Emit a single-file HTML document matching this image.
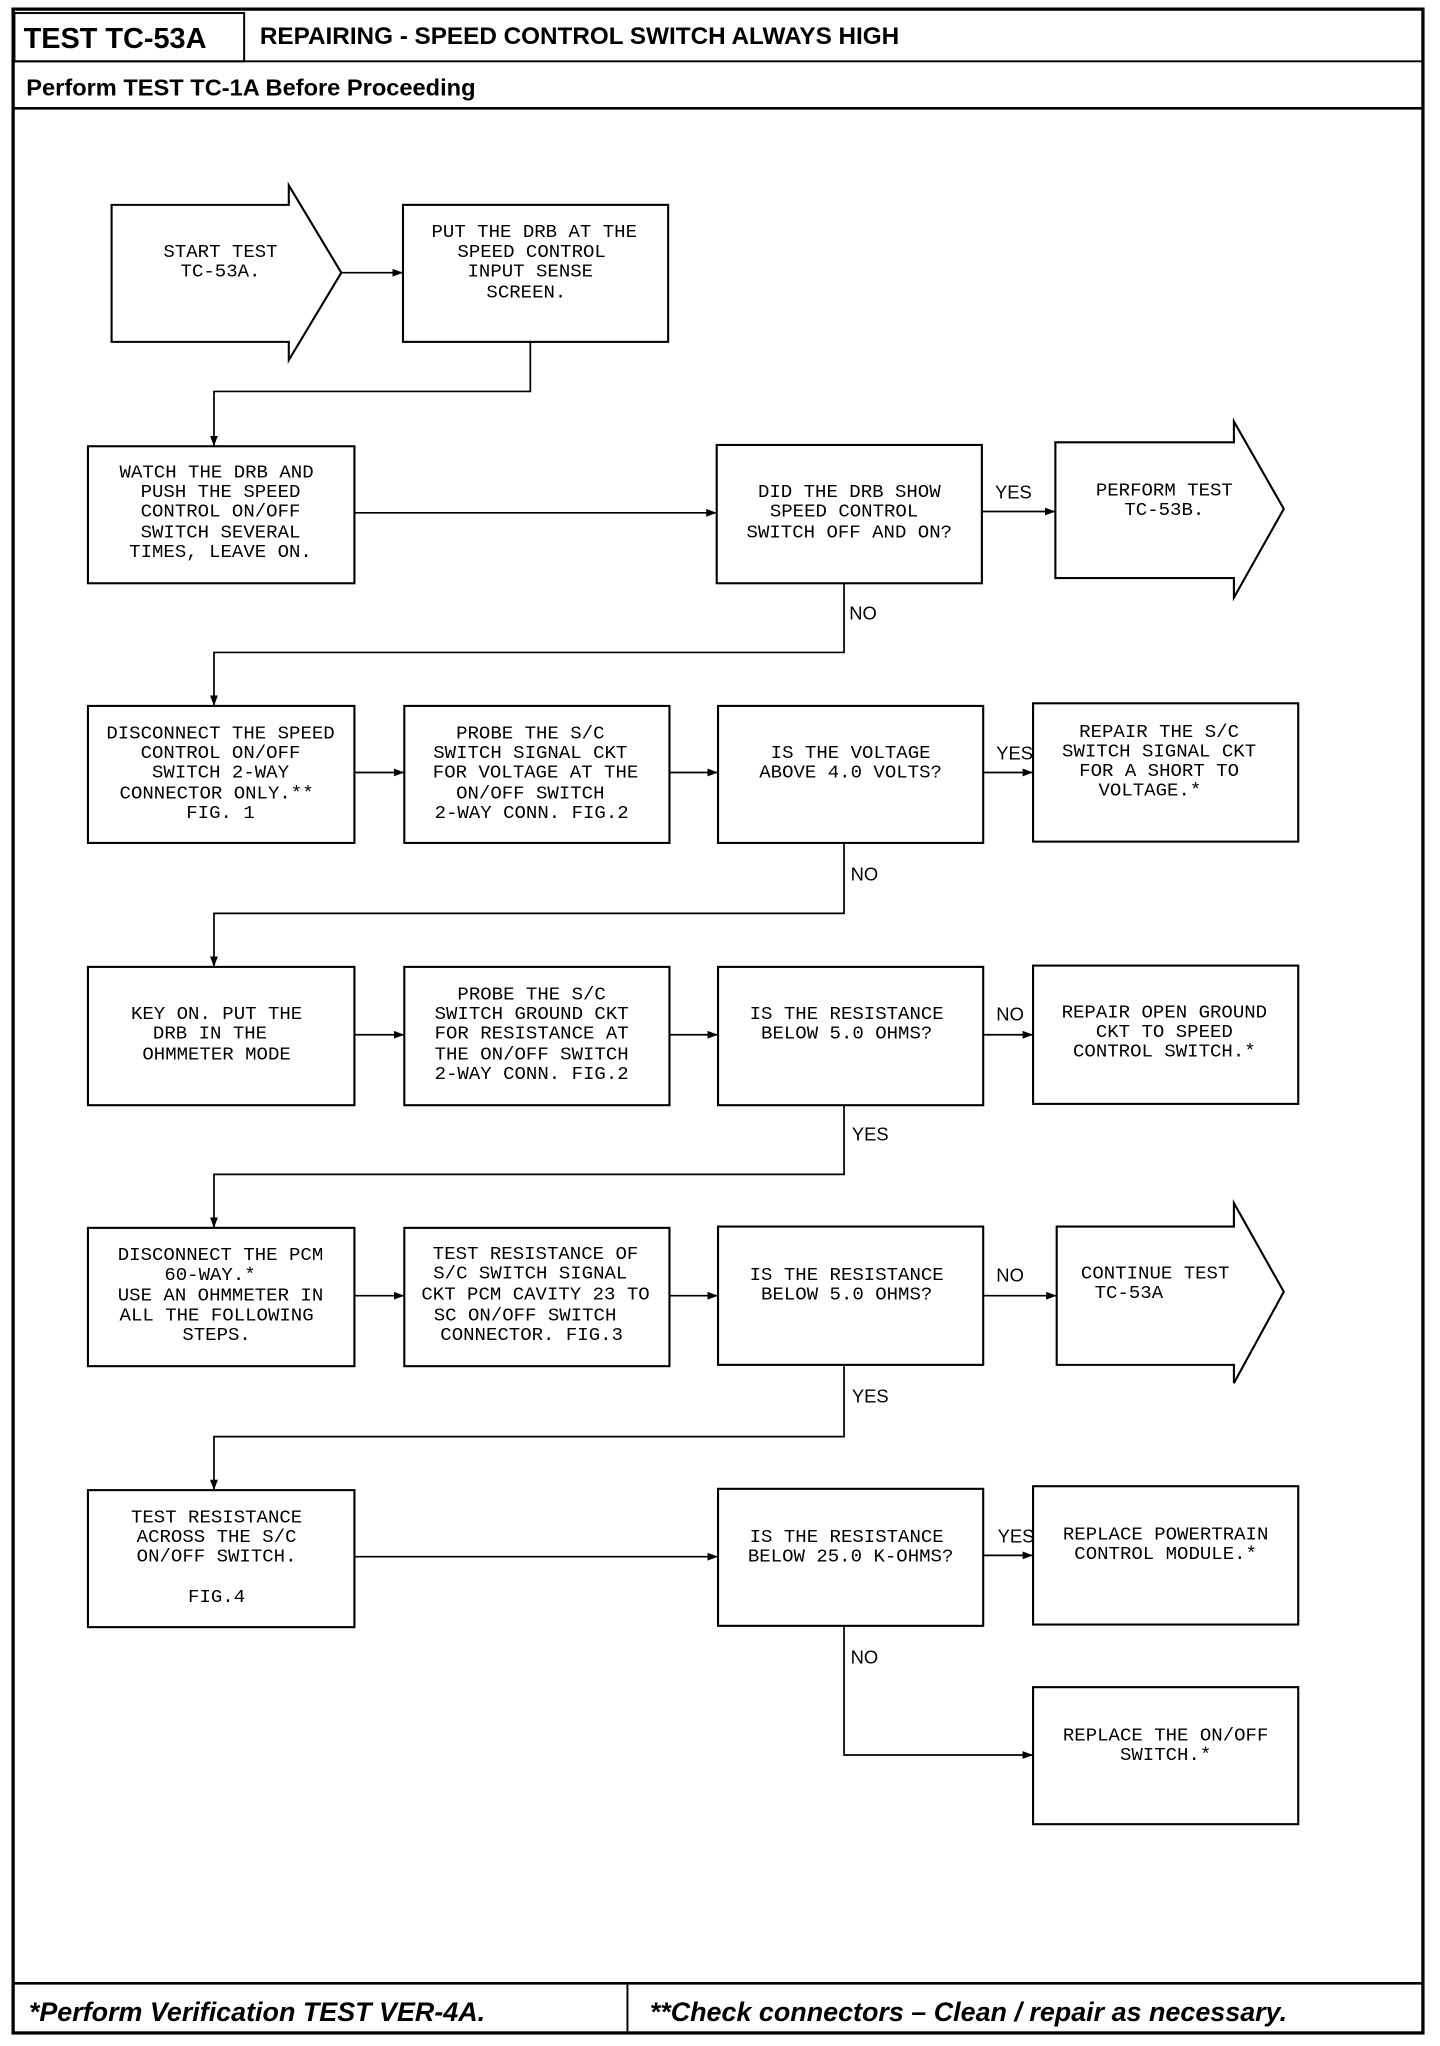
<!DOCTYPE html>
<html><head><meta charset="utf-8"><style>
html,body{margin:0;padding:0;background:#fff;}
svg{display:block;}
.t{font-family:"Liberation Mono",monospace;font-size:14.5px;fill:#000;text-anchor:middle;dominant-baseline:central;}
.l{font-family:"Liberation Sans",sans-serif;font-size:14px;fill:#000;dominant-baseline:central;}
</style></head><body>
<svg width="1440" height="2046" viewBox="0 0 1097 1568" preserveAspectRatio="none" xmlns="http://www.w3.org/2000/svg">
<defs><marker id="a" markerWidth="8" markerHeight="6" refX="8" refY="3" orient="auto" markerUnits="userSpaceOnUse"><path d="M0,0 L8,3 L0,6z" fill="#000"/></marker></defs>
<g fill="none" stroke="#000">
<rect x="10" y="7" width="1074" height="1551" stroke-width="2.5"/>
<rect x="11" y="10" width="175" height="37" stroke-width="1.5"/>
<line x1="10" y1="47" x2="1084" y2="47" stroke-width="1.5"/>
<line x1="10" y1="83" x2="1084" y2="83" stroke-width="2"/>
<line x1="10" y1="1520" x2="1084" y2="1520" stroke-width="2"/>
<line x1="478" y1="1520" x2="478" y2="1558" stroke-width="1.5"/>
<g stroke-width="1.6">
<path d="M85,157 H220 V142 L260,209 L220,276 V262 H85Z"/>
<rect x="307" y="157" width="202" height="105"/>
<rect x="67" y="342" width="203" height="105"/>
<rect x="546" y="341" width="202" height="106"/>
<path d="M804,339 H940 V323 L978,390 L940,458 V443 H804Z"/>
<rect x="67" y="541" width="203" height="105"/>
<rect x="308" y="541" width="202" height="105"/>
<rect x="547" y="541" width="202" height="105"/>
<rect x="787" y="539" width="202" height="106"/>
<rect x="67" y="741" width="203" height="106"/>
<rect x="308" y="741" width="202" height="106"/>
<rect x="547" y="741" width="202" height="106"/>
<rect x="787" y="740" width="202" height="106"/>
<rect x="67" y="941" width="203" height="106"/>
<rect x="308" y="941" width="202" height="106"/>
<rect x="547" y="940" width="202" height="106"/>
<path d="M805,940 H940 V922 L978,990 L940,1060 V1046 H805Z"/>
<rect x="67" y="1142" width="203" height="105"/>
<rect x="547" y="1141" width="202" height="105"/>
<rect x="787" y="1139" width="202" height="106"/>
<rect x="787" y="1293" width="202" height="105"/>
</g>
<g stroke-width="1.3" marker-end="url(#a)">
<line x1="260" y1="209" x2="307" y2="209"/>
<path d="M404,262 V300 H163 V342"/>
<line x1="270" y1="393" x2="546" y2="393"/>
<line x1="748" y1="392" x2="804" y2="392"/>
<path d="M643,447 V500 H163 V541"/>
<line x1="270" y1="592" x2="308" y2="592"/>
<line x1="510" y1="592" x2="547" y2="592"/>
<line x1="749" y1="592" x2="787" y2="592"/>
<path d="M643,646 V700 H163 V741"/>
<line x1="270" y1="793" x2="308" y2="793"/>
<line x1="510" y1="793" x2="547" y2="793"/>
<line x1="749" y1="793" x2="787" y2="793"/>
<path d="M643,847 V900 H163 V941"/>
<line x1="270" y1="993" x2="308" y2="993"/>
<line x1="510" y1="993" x2="547" y2="993"/>
<line x1="749" y1="993" x2="805" y2="993"/>
<path d="M643,1047 V1101 H163 V1142"/>
<line x1="270" y1="1193" x2="547" y2="1193"/>
<line x1="749" y1="1192" x2="787" y2="1192"/>
<path d="M643,1246 V1345 H787"/>
</g>
</g>
<text x="18" y="30" font-family="Liberation Sans" font-weight="bold" font-size="22" dominant-baseline="central">TEST TC-53A</text>
<text x="198" y="28" font-family="Liberation Sans" font-weight="bold" font-size="18.5" dominant-baseline="central">REPAIRING - SPEED CONTROL SWITCH ALWAYS HIGH</text>
<text x="20" y="67" font-family="Liberation Sans" font-weight="bold" font-size="18" dominant-baseline="central">Perform TEST TC-1A Before Proceeding</text>
<text x="22" y="1542" font-family="Liberation Sans" font-weight="bold" font-style="italic" font-size="20.5" dominant-baseline="central">*Perform Verification TEST VER-4A.</text>
<text x="495" y="1542" font-family="Liberation Sans" font-weight="bold" font-style="italic" font-size="20.5" dominant-baseline="central">**Check connectors – Clean / repair as necessary.</text>
<g class="t">
<text x="168" y="193">START TEST</text><text x="168" y="208">TC-53A.</text>
<text x="407" y="178">PUT THE DRB AT THE</text><text x="405" y="193">SPEED CONTROL</text><text x="404" y="208">INPUT SENSE</text><text x="401" y="224">SCREEN.</text>
<text x="165" y="362">WATCH THE DRB AND</text><text x="168" y="377">PUSH THE SPEED</text><text x="168" y="392">CONTROL ON/OFF</text><text x="168" y="408">SWITCH SEVERAL</text><text x="168" y="423">TIMES, LEAVE ON.</text>
<text x="647" y="377">DID THE DRB SHOW</text><text x="643" y="392">SPEED CONTROL</text><text x="647" y="408">SWITCH OFF AND ON?</text>
<text x="887" y="376">PERFORM TEST</text><text x="887" y="391">TC-53B.</text>
<text x="168" y="562">DISCONNECT THE SPEED</text><text x="168" y="577">CONTROL ON/OFF</text><text x="168" y="592">SWITCH 2-WAY</text><text x="165" y="608">CONNECTOR ONLY.**</text><text x="168" y="623">FIG. 1</text>
<text x="404" y="562">PROBE THE S/C</text><text x="404" y="577">SWITCH SIGNAL CKT</text><text x="408" y="592">FOR VOLTAGE AT THE</text><text x="404" y="608">ON/OFF SWITCH</text><text x="405" y="623">2-WAY CONN. FIG.2</text>
<text x="648" y="577">IS THE VOLTAGE</text><text x="648" y="592">ABOVE 4.0 VOLTS?</text>
<text x="883" y="561">REPAIR THE S/C</text><text x="883" y="576">SWITCH SIGNAL CKT</text><text x="883" y="591">FOR A SHORT TO</text><text x="876" y="606">VOLTAGE.*</text>
<text x="165" y="777">KEY ON. PUT THE</text><text x="160" y="792">DRB IN THE</text><text x="165" y="808">OHMMETER MODE</text>
<text x="405" y="762">PROBE THE S/C</text><text x="405" y="777">SWITCH GROUND CKT</text><text x="405" y="792">FOR RESISTANCE AT</text><text x="405" y="808">THE ON/OFF SWITCH</text><text x="405" y="823">2-WAY CONN. FIG.2</text>
<text x="645" y="777">IS THE RESISTANCE</text><text x="645" y="792">BELOW 5.0 OHMS?</text>
<text x="887" y="776">REPAIR OPEN GROUND</text><text x="887" y="791">CKT TO SPEED</text><text x="887" y="806">CONTROL SWITCH.*</text>
<text x="168" y="962">DISCONNECT THE PCM</text><text x="160" y="977">60-WAY.*</text><text x="168" y="993">USE AN OHMMETER IN</text><text x="165" y="1008">ALL THE FOLLOWING</text><text x="165" y="1023">STEPS.</text>
<text x="408" y="961">TEST RESISTANCE OF</text><text x="404" y="976">S/C SWITCH SIGNAL</text><text x="408" y="992">CKT PCM CAVITY 23 TO</text><text x="400" y="1008">SC ON/OFF SWITCH</text><text x="405" y="1023">CONNECTOR. FIG.3</text>
<text x="645" y="977">IS THE RESISTANCE</text><text x="645" y="992">BELOW 5.0 OHMS?</text>
<text x="880" y="976">CONTINUE TEST</text><text x="860" y="991">TC-53A</text>
<text x="165" y="1163">TEST RESISTANCE</text><text x="165" y="1178">ACROSS THE S/C</text><text x="165" y="1193">ON/OFF SWITCH.</text><text x="165" y="1224">FIG.4</text>
<text x="645" y="1178">IS THE RESISTANCE</text><text x="648" y="1193">BELOW 25.0 K-OHMS?</text>
<text x="888" y="1176">REPLACE POWERTRAIN</text><text x="888" y="1191">CONTROL MODULE.*</text>
<text x="888" y="1330">REPLACE THE ON/OFF</text><text x="888" y="1345">SWITCH.*</text>
</g>
<g class="l">
<text x="758" y="377">YES</text><text x="647" y="470">NO</text>
<text x="759" y="577">YES</text><text x="648" y="670">NO</text>
<text x="759" y="777">NO</text><text x="649" y="869">YES</text>
<text x="759" y="977">NO</text><text x="649" y="1070">YES</text>
<text x="760" y="1177">YES</text><text x="648" y="1270">NO</text>
</g>
</svg>
</body></html>
